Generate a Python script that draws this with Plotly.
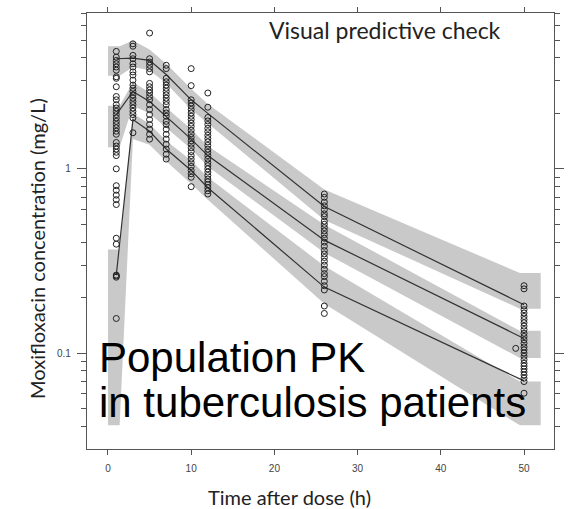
import plotly.graph_objects as go

# Observed moxifloxacin concentrations (mg/L) by nominal sampling time (h)
obs_times = [1, 3, 5, 7, 10, 12, 26, 50]
obs_conc = {
    1: [4.34, 4.04, 3.88, 3.72, 3.57, 3.43, 3.16, 3.10, 2.79, 2.47, 2.37, 2.23,
        2.14, 2.05, 1.97, 1.89, 1.81, 1.74, 1.67, 1.60, 1.54, 1.39, 1.33, 1.28,
        1.23, 1.18, 1.00, 0.81, 0.765, 0.72, 0.68, 0.64, 0.42, 0.39, 0.265,
        0.262, 0.258, 0.154],
    3: [4.77, 4.63, 4.13, 3.96, 3.72, 3.57, 3.36, 3.23, 3.03, 2.85, 2.74, 2.63,
        2.52, 2.42, 2.32, 2.23, 2.14, 2.05, 1.97, 1.89, 1.57],
    5: [5.46, 3.96, 3.80, 3.65, 3.50, 3.36, 2.91, 2.79, 2.68, 2.58, 2.47, 2.37,
        2.23, 2.10, 1.97, 1.85, 1.74, 1.64, 1.54, 1.45],
    7: [3.65, 3.50, 3.10, 2.97, 2.85, 2.74, 2.63, 2.52, 2.42, 2.32, 2.23, 2.10,
        2.01, 1.93, 1.81, 1.74, 1.64, 1.54, 1.45, 1.36, 1.28, 1.20, 1.13],
    10: [3.50, 2.83, 2.37, 2.28, 2.19, 2.10, 2.01, 1.93, 1.85, 1.77, 1.70, 1.62,
         1.55, 1.48, 1.42, 1.36, 1.30, 1.24, 1.18, 1.13, 1.08, 1.03, 0.98, 0.94,
         0.90, 0.80],
    12: [2.58, 2.16, 1.90, 1.82, 1.74, 1.66, 1.59, 1.52, 1.46, 1.40, 1.34, 1.28,
         1.23, 1.18, 1.13, 1.08, 1.04, 1.00, 0.96, 0.92, 0.88, 0.85, 0.82, 0.79,
         0.76, 0.73],
    26: [0.73, 0.70, 0.66, 0.63, 0.60, 0.57, 0.55, 0.52, 0.50, 0.48, 0.46, 0.44,
         0.42, 0.40, 0.38, 0.36, 0.345, 0.33, 0.315, 0.30, 0.285, 0.27, 0.26,
         0.245, 0.232, 0.22, 0.18, 0.164],
    50: [0.232, 0.223, 0.18, 0.172, 0.165, 0.158, 0.152, 0.146, 0.14, 0.134,
         0.128, 0.123, 0.118, 0.113, 0.108, 0.104, 0.10, 0.096, 0.092, 0.088,
         0.085, 0.082, 0.079, 0.076, 0.073, 0.07, 0.0605],
}
extra_obs_time = [49]
extra_obs_conc = [0.106]

# Observed percentiles (95th, 50th, 5th) at each bin
pct_times = [1, 3, 5, 7, 10, 12, 26, 50]
obs_p95 = [3.96, 3.99, 3.88, 3.25, 2.37, 2.0, 0.624, 0.183]
obs_p50 = [1.97, 2.63, 2.32, 1.93, 1.45, 1.18, 0.41, 0.12]
obs_p05 = [0.265, 1.85, 1.60, 1.28, 0.98, 0.79, 0.228, 0.0706]

# 95% confidence intervals of the simulated percentiles
ci_times = [0, 1.4, 3, 5, 7, 10, 12, 26, 49.5, 52]
ci95_lo = [3.20, 3.20, 3.57, 3.43, 2.91, 2.10, 1.76, 0.528, 0.174, 0.174]
ci95_hi = [4.63, 4.63, 4.97, 4.45, 3.72, 2.72, 2.25, 0.772, 0.272, 0.272]
ci50_lo = [1.31, 1.31, 2.20, 2.00, 1.68, 1.28, 1.03, 0.350, 0.094, 0.094]
ci50_hi = [2.20, 2.20, 2.95, 2.60, 2.15, 1.64, 1.33, 0.497, 0.132, 0.132]
ci05_lo = [0.0405, 0.0405, 1.45, 1.35, 1.10, 0.83, 0.68, 0.185, 0.0405, 0.0405]
ci05_hi = [0.365, 0.365, 2.00, 1.75, 1.42, 1.11, 0.90, 0.297, 0.070, 0.070]

x_ticks = [0, 10, 20, 30, 40, 50]
y_ticks = [0.1, 1]
y_tick_text = ["0.1", "1"]
y_minor = [0.04, 0.05, 0.06, 0.07, 0.08, 0.09,
           0.2, 0.3, 0.4, 0.5, 0.6, 0.7, 0.8, 0.9,
           2, 3, 4, 5, 6, 7]

BAND = "#c9c9c9"
INK = "#333333"
AXIS = "#555555"
TITLE_FONT = dict(family="Lato", size=20, color="#222222")
BIG_FONT = dict(family="Liberation Sans, Arial", size=42, color="#000000")

fig = go.Figure()

for lo, hi in [(ci95_lo, ci95_hi), (ci50_lo, ci50_hi), (ci05_lo, ci05_hi)]:
    fig.add_trace(go.Scatter(
        x=ci_times + ci_times[::-1],
        y=hi + lo[::-1],
        fill="toself", fillcolor=BAND, mode="lines",
        line=dict(width=0, color=BAND), hoverinfo="skip", showlegend=False,
    ))

for series in [obs_p95, obs_p50, obs_p05]:
    fig.add_trace(go.Scatter(
        x=pct_times, y=series, mode="lines",
        line=dict(color=INK, width=1.2), showlegend=False,
    ))

xs, ys = [], []
for t in obs_times:
    for c in obs_conc[t]:
        xs.append(t)
        ys.append(c)
xs += extra_obs_time
ys += extra_obs_conc
fig.add_trace(go.Scatter(
    x=xs, y=ys, mode="markers",
    marker=dict(symbol="circle-open", size=6, color="#222222", line=dict(width=1)),
    showlegend=False,
))

fig.add_annotation(
    text="Visual predictive check", xref="paper", yref="paper",
    x=0.638, y=0.96, xanchor="center", yanchor="middle", showarrow=False,
    font=dict(family="Lato", size=23, color="#222222"),
)
fig.add_annotation(
    text="Population PK", xref="paper", yref="paper",
    x=0.022, y=0.21, xanchor="left", yanchor="middle", showarrow=False,
    font=BIG_FONT,
)
fig.add_annotation(
    text="in tuberculosis patients", xref="paper", yref="paper",
    x=0.022, y=0.106, xanchor="left", yanchor="middle", showarrow=False,
    font=BIG_FONT,
)
# Axis titles
fig.add_annotation(
    text="Time after dose (h)", xref="paper", yref="paper",
    x=0.434, y=-0.111, xanchor="center", yanchor="middle", showarrow=False,
    font=TITLE_FONT,
)
fig.add_annotation(
    text="Moxifloxacin concentration (mg/L)", xref="paper", yref="paper",
    x=-0.107, y=0.459, xanchor="center", yanchor="middle", showarrow=False,
    textangle=-90, font=TITLE_FONT,
)

fig.update_layout(
    width=571, height=509,
    margin=dict(l=87, r=15, t=7, b=60),
    paper_bgcolor="white", plot_bgcolor="white",
    showlegend=False,
)
fig.update_xaxes(
    range=[-2.52, 53.6], tickvals=x_ticks,
    ticks="outside", ticklen=5, tickwidth=1, tickcolor=AXIS,
    showline=True, linecolor=AXIS, linewidth=1.2, mirror="ticks",
    showgrid=False, zeroline=False,
    tickfont=dict(family="Liberation Sans, Arial", size=10, color="#444444"),
    ticklabelstandoff=5,
)
fig.update_yaxes(
    type="log", range=[-1.521, 0.846],
    tickvals=y_ticks, ticktext=y_tick_text,
    ticks="outside", ticklen=9, tickwidth=1, tickcolor=AXIS,
    minor=dict(tickmode="array", tickvals=y_minor, ticks="outside",
               ticklen=5, tickwidth=1, tickcolor=AXIS, showgrid=False),
    showline=True, linecolor=AXIS, linewidth=1.2, mirror="ticks",
    showgrid=False, zeroline=False,
    tickfont=dict(family="Liberation Sans, Arial", size=10, color="#444444"),
    ticklabelstandoff=4,
)

fig.write_html("out.html")
